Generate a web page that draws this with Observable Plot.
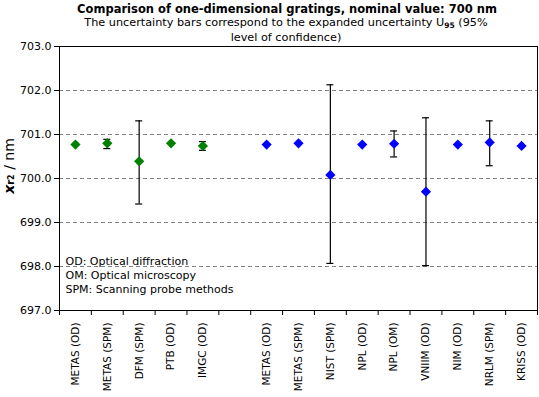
<!DOCTYPE html>
<html><head><meta charset="utf-8">
<script src="https://cdn.jsdelivr.net/npm/d3@7"></script>
<script src="https://cdn.jsdelivr.net/npm/@observablehq/plot@0.6"></script>
<style>body{margin:0;background:#fff}</style>
</head><body><div id="chart"></div>
<script>
const categories = ["METAS (OD)","METAS (SPM)","DFM (SPM)","PTB (OD)","IMGC (OD)","",
  "METAS (OD)","METAS (SPM)","NIST (SPM)","NPL (OD)","NPL (OM)","VNIIM (OD)","NIM (OD)","NRLM (SPM)","KRISS (OD)"];
const groups = ["A","A","A","A","A",null,"B","B","B","B","B","B","B","B","B"];
const values = [700.77,700.80,700.39,700.80,700.74,null,700.77,700.80,700.08,700.77,700.79,699.70,700.77,700.82,700.74];
const lower  = [null,700.68,699.42,null,700.64,null,null,null,698.07,null,700.49,698.02,null,700.29,null];
const upper  = [null,700.89,701.31,null,700.84,null,null,null,702.13,null,701.08,701.38,null,701.31,null];
const yTicks = [697,698,699,700,701,702,703];
const gridLines = [698,699,700,701,702];
const legendLines = ["OD: Optical diffraction","OM: Optical microscopy","SPM: Scanning probe methods"];
const titleText = "Comparison of one-dimensional gratings, nominal value: 700 nm";
const subtitleA = "The uncertainty bars correspond to the expanded uncertainty U";
const subtitleSub = "95";
const subtitleB = " (95%";
const subtitleLine2 = "level of confidence)";

const rows = categories.map((c,i)=>({pos:i+0.5, label:c, group:groups[i], value:values[i], lo:lower[i], hi:upper[i]}));
const points = rows.filter(d=>d.value!=null);
const bars = rows.filter(d=>d.lo!=null);
const FONT = "'DejaVu Sans', Verdana, sans-serif";

const svg = Plot.plot({
  width:539, height:397, marginTop:46, marginBottom:87, marginLeft:59, marginRight:2,
  style:{fontFamily:FONT, fontSize:"11px", color:"#000", background:"#fff", overflow:"visible"},
  x:{type:"linear", domain:[0,categories.length], axis:null},
  y:{domain:[697,703], axis:null},
  color:{domain:["A","B"], range:["#008000","#0000ff"]},
  marks:[
    Plot.ruleY(gridLines, {stroke:"#808080", strokeDasharray:"4,3"}),
    Plot.frame({stroke:"#000"}),
    Plot.axisY({ticks:yTicks, tickFormat:d=>d.toFixed(1), tickSize:5, tickPadding:3, label:null, stroke:"#000", fill:"#000"}),
    Plot.axisX({ticks:d3.range(categories.length+1), tickSize:5, tickFormat:()=>"", label:null, stroke:"#000"}),
    Plot.axisX(points.map(d=>d.pos), {tickSize:0, tickRotate:-90, tickPadding:12, tickFormat:p=>rows[Math.floor(p)].label, label:null, fill:"#000", fontSize:10.5}),
    Plot.ruleX(bars, {x:"pos", y1:"lo", y2:"hi", stroke:"#000", strokeWidth:1.2}),
    Plot.ruleY(bars, {y:"lo", x1:"pos", x2:"pos", insetLeft:-3.5, insetRight:-3.5, stroke:"#000", strokeWidth:1.2}),
    Plot.ruleY(bars, {y:"hi", x1:"pos", x2:"pos", insetLeft:-3.5, insetRight:-3.5, stroke:"#000", strokeWidth:1.2}),
    Plot.dot(points, {x:"pos", y:"value", fill:"group", symbol:"diamond2", r:4.6}),
    Plot.text([legendLines.join("\n")], {frameAnchor:"bottom-left", textAnchor:"start", lineAnchor:"bottom", lineHeight:1.27, dx:6, dy:-18, fill:"#000", fontSize:11})
  ]
});

const s = d3.select(svg);
s.append("text").attr("x",287).attr("y",12.5).attr("text-anchor","middle")
  .attr("font-family",FONT).attr("font-size",11.5).attr("font-weight","bold").text(titleText);
const st = s.append("text").attr("x",286).attr("y",26).attr("text-anchor","middle")
  .attr("font-family",FONT).attr("font-size",11.25);
st.append("tspan").text(subtitleA);
st.append("tspan").attr("font-size",7.5).attr("font-weight","bold").attr("dy",2).text(subtitleSub);
st.append("tspan").attr("dy",-2).text(subtitleB);
s.append("text").attr("x",286).attr("y",41).attr("text-anchor","middle")
  .attr("font-family",FONT).attr("font-size",11.25).text(subtitleLine2);
const yl = s.append("text").attr("transform","translate(14,166) rotate(-90)").attr("text-anchor","middle")
  .attr("font-family",FONT).attr("font-size",14);
yl.append("tspan").attr("font-weight","bold").attr("font-style","italic").text("x");
yl.append("tspan").attr("font-weight","bold").attr("font-size",10).text("r");
yl.append("tspan").attr("font-weight","bold").attr("font-size",8).text("2");
yl.append("tspan").text(" / nm");

document.getElementById("chart").appendChild(svg);
</script>
</body></html>
